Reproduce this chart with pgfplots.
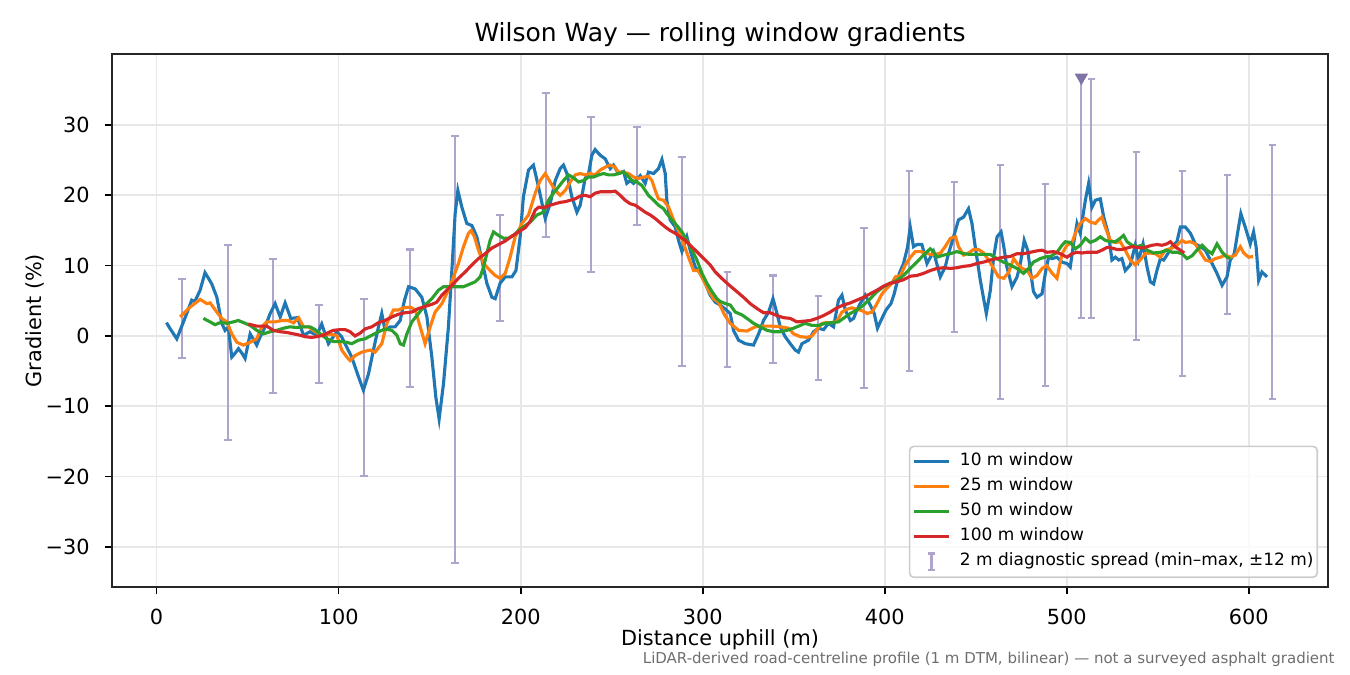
\documentclass[border=0pt]{standalone}
\usepackage{fontspec}
\setmainfont{DejaVu Sans}
\usepackage{pgfplots}
\pgfplotsset{compat=1.18}

\definecolor{c10}{HTML}{1F77B4}
\definecolor{c25}{HTML}{FF7F0E}
\definecolor{c50}{HTML}{2CA02C}
\definecolor{c100}{HTML}{D62728}
\definecolor{barcol}{RGB}{174,164,204}
\definecolor{tricol}{RGB}{128,114,164}
\definecolor{gridcol}{RGB}{231,231,231}
\definecolor{legframe}{RGB}{204,204,204}
\definecolor{notecol}{RGB}{110,110,110}

\begin{document}
\begin{tikzpicture}
% page = 1350 x 675 px at 0.48pt per px, axis box at px (112..1328, 54..587)
\useasboundingbox (-53.76pt,-42.24pt) rectangle (594.24pt,281.76pt);
\begin{axis}[
    at={(0,0)}, anchor=south west,
    scale only axis,
    width=583.68pt, height=255.84pt,
    xmin=-24.5, xmax=643.5,
    ymin=-35.7, ymax=40.1,
    xtick={0,100,...,600},
    ytick={-30,-20,...,30},
    yticklabels={−30,−20,−10,0,10,20,30},
    tick pos=left,
    tick align=outside,
    major tick length=3.5pt,
    tick style={black, line width=0.8pt},
    axis line style={line width=0.8pt, black!85},
    grid=major,
    grid style={gridcol, line width=0.8pt},
    /pgf/number format/assume math mode=true,
    ticklabel style={font=\fontsize{10}{12}\selectfont},
    xticklabel style={anchor=base, inner sep=0pt, yshift=-14.7pt},
    yticklabel style={anchor=east, inner sep=0pt, xshift=-7pt},
    legend cell align=left,
    legend style={
        at={(axis description cs:0.9918,0.0168)}, anchor=south east,
        font=\fontsize{8.15}{9.8}\selectfont,
        draw=legframe, line width=0.8pt, rounded corners=2pt,
        fill=white, fill opacity=0.8, text opacity=1,
        inner xsep=1.2pt, inner ysep=1.4pt,
        row sep=0pt,
        nodes={inner xsep=0.6pt, inner ysep=2pt, text height=6pt, text depth=2pt},
        /tikz/every odd column/.append style={column sep=3.8pt},
    },
]

% 2 m diagnostic spread: centre and half range of min..max
\addplot[draw=none, mark=none, forget plot,
    error bars/.cd, y dir=both, y explicit,
    error mark=|,
    error bar style={draw=barcol, line width=1pt, solid},
    error mark options={draw=barcol, line width=1pt, mark size=1.8pt}]
table[x=x, y=c, y error=h] {
x c h
14.0 2.5 5.6
39.3 -0.95 13.85
64.0 1.45 9.55
89.3 -1.15 5.55
114.0 -7.3 12.6
139.3 2.55 9.75
164.0 -1.95 30.35
188.7 9.65 7.55
214.0 24.35 10.25
238.7 20.15 11.05
264.0 22.75 6.95
288.7 10.6 14.9
313.5 2.35 6.75
338.7 2.4 6.2
363.5 -0.3 6.0
388.7 4.0 11.4
413.5 9.2 14.2
438.2 11.25 10.65
463.5 7.7 16.6
488.2 7.25 14.35
508.0 19.7 17.1
513.5 19.55 16.95
538.2 12.8 13.4
563.5 8.9 14.6
588.2 13.0 9.9
612.9 9.1 18.0
};

\addplot[only marks, mark=triangle*, mark size=3.3pt, forget plot,
    mark options={rotate=180, fill=tricol, draw=tricol}]
coordinates {(508.0,36.75)};

% 10 m window
\addplot[c10, line width=1.5pt, mark=none] table {
5.4 1.9
7.5 1.0
11.1 -0.4
14 1.5
17 3.5
19.3 5.1
21 4.9
23.9 6.5
26.6 9.0
28.5 8.2
30.3 7.4
33.1 5.5
35.8 1.8
37.6 0.8
39.4 1.3
41.3 -3.0
43 -2.5
45 -1.8
47 -2.5
48.6 -3.2
51.4 0.3
55 -1.3
56.9 -0.1
59.6 1.3
62.4 3.2
65.1 4.6
67.9 2.7
70.6 4.7
73.7 2.5
77.4 2.6
80.7 0.1
84.3 0.6
88 0.1
90.7 1.7
94.4 -1.1
97.1 -0.1
99 0.6
101.6 -0.1
104.5 -1.6
107.2 -3.0
110.9 -5.8
113.6 -7.7
116.4 -5.4
119.1 -2.0
121.9 1.3
123.7 3.2
125.5 0.8
128.3 1.3
131 1.3
133.8 2.2
136.2 5.1
138.4 7.0
142 6.7
145.7 5.5
148.5 2.7
151.2 -3.0
153.4 -8.7
155.2 -11.8
157.6 -6.8
160.3 1.3
162.2 9.3
164 17.4
165.5 20.7
167.7 18.3
170.4 16.0
173.2 15.7
175.9 14.1
178.7 10.8
181.4 7.5
184.2 5.5
186 5.3
188.7 7.5
191.5 8.4
195.2 8.4
197.4 9.3
199.7 14.1
201.5 19.8
204.3 23.6
207 24.3
209.8 21.2
212.5 17.9
213.5 16.7
216.2 18.8
219 22.1
221.7 23.8
223.5 24.3
225.4 23.1
228.1 19.8
230.9 17.6
232.7 18.6
235.4 22.4
237.3 23.1
239.1 25.7
240.9 26.5
243.7 25.7
246.4 25.2
249.2 23.8
251 24.3
253.7 23.1
256.5 23.4
258.3 21.7
260.2 22.1
262 21.7
265.7 22.8
268.4 21.7
270.2 23.3
273 23.1
275.7 23.8
277.6 25.1
279.4 23.1
280.3 19.3
282.1 16.5
284.9 15.5
286.7 13.6
288.6 12.0
291.3 14.1
293.1 12.2
295.9 9.8
298.6 8.9
301.4 7.5
304.1 5.8
306.9 4.8
309.6 4.4
312.5 3.8
315.1 3.2
316.9 0.8
319.7 -0.6
323.4 -1.1
327.9 -1.3
330.7 0.3
333.4 2.2
336.2 3.4
338.6 5.3
340.8 3.2
342.6 1.3
345.3 -0.1
348.1 -1.1
350.8 -2.0
352.6 -2.3
354.5 -1.1
358.1 -0.6
360.9 0.6
363.6 1.1
366.4 0.9
369.1 1.8
371.9 1.3
374.6 5.1
376.5 5.8
378.3 3.7
381.1 2.2
382.9 2.5
384.7 3.7
386.5 4.6
389.3 5.8
392 4.4
394.2 3.2
396 1.1
397.9 2.2
400.7 3.7
403.4 4.6
405.2 6.0
408 8.9
410.3 10.3
412.5 12.6
414 15.5
415.8 12.7
417.6 13.0
420.4 13.0
423.2 10.3
426.8 12.0
430.5 8.4
433.2 9.8
435 11.7
437.8 14.1
440.5 16.5
443.3 16.9
446 18.1
447.9 16.0
449.7 12.7
452.5 7.9
455.8 3.2
458 6.5
459.8 11.2
461.7 14.1
463.9 14.8
465.4 12.7
467.1 9.8
469.9 7.0
472.7 8.4
474.5 10.3
476.6 13.6
478.5 12.2
480 9.3
481.7 6.3
483.6 5.5
486.4 6.0
488.2 8.9
490 11.2
491.9 11.0
494.6 11.2
497.4 10.5
500.1 10.3
501.9 9.8
503.7 13.1
505.6 16.0
507.4 14.6
510.2 19.3
512 21.7
513.8 18.3
515.7 19.3
518.4 19.5
520.3 16.9
523 14.3
524.8 10.8
526.7 11.2
528.5 10.8
530.3 11.0
532.1 9.3
534.9 10.1
537.6 12.9
539.4 10.8
541.9 13.1
544.1 9.8
545.9 7.7
547.7 7.4
549.5 9.3
551.4 11.0
553.2 10.8
555 11.5
557.8 12.7
560.5 13.4
562.4 15.5
565.1 15.5
567.9 14.6
570.6 13.1
573.4 12.7
576.1 12.2
579.8 10.3
582.5 8.9
585.3 7.2
588 8.4
589.8 10.8
592 11.7
593.8 14.6
595.6 17.4
598 15.5
600.8 13.1
602.6 14.8
604 12.7
605.4 7.9
607.2 9.1
610 8.4
};
\addlegendentry{10 m window}

% 25 m window
\addplot[c25, line width=1.5pt, mark=none] table {
12.9 2.7
18.4 4.1
23.9 5.2
27.6 4.6
29.4 4.7
33.1 3.4
35.8 2.5
38.6 2.0
41.3 0.3
44.1 -0.9
47.7 -1.3
51.4 -0.9
55 -0.4
57.8 1.3
60.5 2.0
65.1 2.0
68.8 2.2
72.4 2.2
75.2 1.85
78 2.6
80.7 1.3
83.4 1.3
86.2 0.8
88.9 0.3
91.7 0.2
95.3 0.2
99 0.1
101.7 -2.0
104.5 -3.0
106.3 -3.5
109 -2.8
112.7 -2.3
117.3 -2.0
120 -2.3
123.7 -1.1
126.5 1.8
130.1 3.7
132.9 3.7
135.6 4.0
139.3 4.1
142.1 3.7
144.8 1.3
147.5 -1.1
150.3 1.3
153 3.4
156.7 4.6
160.3 6.5
163.1 8.4
165.8 10.3
168.6 12.7
171.3 14.6
172.8 15.0
174.6 14.1
176.8 12.2
179.6 10.3
183.2 9.3
186 8.6
188.7 8.2
191.5 8.9
194.2 11.2
197 14.1
200.7 16.0
204.3 17.2
208 20.3
210.7 22.1
213.5 23.1
216.2 21.9
219 20.7
221.7 20.0
224.5 20.7
227.2 21.9
230 22.9
232.7 23.1
235.4 22.9
238.2 23.1
240.9 22.9
243.7 23.6
246.4 24.0
249.2 24.3
251.9 24.0
253.7 23.3
256.5 23.3
259.2 23.1
262 22.6
264.7 22.4
267.5 22.6
270.2 22.7
272.1 22.1
273.9 20.7
275.7 19.5
278.5 19.3
281.3 18.3
284 16.5
286.7 15.0
289.5 13.1
292.2 11.2
295 9.3
297.7 9.3
300.5 7.9
303.2 6.5
305.9 5.3
308.7 4.8
312 3.0
315.1 1.8
319.7 0.8
324.3 0.7
328.8 1.3
333.4 1.4
338 1.4
342.6 1.3
347.2 1.1
349.9 0.3
353.6 -0.1
357.3 -0.2
360 0.0
362.4 0.8
365.5 1.8
368.2 1.9
371 1.9
373.7 2.1
376.5 3.4
379.2 3.8
382 4.0
384.7 3.8
387.5 3.6
390.3 3.2
393 3.4
395.7 4.6
398.5 6.0
401.2 6.8
404 7.5
405.8 8.4
408.6 8.6
411.3 10.1
414.1 11.2
416.8 12.0
419.6 12.0
422.3 11.8
425.1 11.6
427.8 11.6
430.6 11.8
433.2 12.7
436.1 13.9
438.9 14.1
440.5 12.7
443.3 11.5
446 11.8
448.8 12.3
451.5 12.3
454.3 11.8
457 10.8
459.8 9.6
462.5 8.4
465.4 8.2
468.2 9.1
470.8 11.0
472.7 10.3
475.5 9.6
478.3 9.3
480.9 8.2
483.6 8.6
486.4 9.6
489 10.0
492 8.9
494.6 8.2
497.4 11.7
500.1 12.9
502.9 13.3
504.7 14.6
507.4 16.0
510.2 16.7
512.9 16.2
515.7 16.0
517.5 16.5
519.3 16.9
521.1 15.5
523.9 13.6
526.7 13.3
529.4 13.4
532.1 12.2
534.9 10.8
537.6 10.1
540.3 10.8
543.1 11.7
545.9 11.8
548.6 11.7
551.4 11.2
554.1 12.2
557.8 12.5
560.5 12.9
563.3 13.6
565.1 13.3
567.9 13.4
570.6 13.1
573.4 11.9
576.1 10.8
578.9 10.6
581.6 11.0
584.4 11.2
587.1 11.5
589.8 11.2
592.6 11.5
595.3 12.7
597.2 11.8
599.9 11.2
602.3 11.3
};
\addlegendentry{25 m window}

% 50 m window
\addplot[c50, line width=1.5pt, mark=none] table {
25.7 2.5
29.4 2.0
32.1 1.6
34.9 1.9
38.6 1.8
42.2 2.0
44.9 2.2
47.7 1.9
51.4 1.5
55 0.8
58.7 0.3
62.4 0.6
66 0.8
69.7 1.1
73.3 1.3
77 1.2
80.7 1.3
84.3 1.3
87.1 0.9
89.8 0.3
93.5 -0.4
97.1 -0.8
100.8 -0.8
104.5 -0.9
107.2 -1.1
110.9 -0.6
114.5 -0.4
118.2 0.1
121.9 0.6
125.5 1.0
129.2 0.8
132 0.1
133.8 -1.1
135.6 -1.3
137.5 0.3
140.2 2.0
143.9 3.2
147.5 4.4
151.2 5.3
154.8 6.5
157.6 7.0
161.3 7.0
164.9 7.0
168.6 7.0
172.3 7.4
175 7.7
177.8 8.4
179.6 9.8
181.4 11.7
183.2 13.6
185.1 14.8
187.8 14.3
190.6 13.9
193.3 13.9
196.1 14.3
198.8 15.0
202.5 15.7
205.2 16.2
208.9 17.2
212.5 17.6
215.3 19.3
218 20.3
220.8 21.2
223.5 22.1
226.3 22.9
229 22.5
231.8 21.9
234.5 22.1
237.3 22.6
240 22.6
242.8 22.9
245.5 23.1
248.3 22.9
251 22.9
253.8 23.1
256.5 23.3
258.3 22.9
261.1 22.1
263.8 21.9
266.6 21.4
268.4 20.7
270.2 20.0
273 19.3
275.7 18.6
278.5 18.1
280.3 17.4
283.1 16.5
285.8 15.7
288.6 14.8
291.3 13.6
294.1 12.2
296.8 10.8
299.6 8.9
302.3 7.5
305.1 6.3
307.8 5.3
309.6 4.9
312.5 4.6
315.1 4.4
317.9 3.4
321.5 3.0
324.3 2.5
327.9 1.8
331.6 1.3
335.3 0.8
339 0.6
342.6 0.6
346.3 0.8
349.9 1.1
353.6 1.5
356.3 1.8
360 1.5
363.6 1.5
367.3 1.8
371 1.9
374.6 2.0
378.3 2.7
381.1 3.2
384.7 3.7
388.4 4.4
392 5.3
395.7 6.3
399.4 7.0
403 7.5
406.7 7.9
410.3 8.6
414 9.6
417.6 10.5
421.3 11.5
425 12.4
426.8 12.0
428.6 11.2
432.3 11.5
436 11.7
439.6 12.0
443.3 11.7
446.9 11.6
450.6 11.6
454.3 11.6
457.9 11.6
461.6 11.0
465.2 10.5
468.9 10.1
472.6 9.6
476.2 8.9
479 9.6
481.7 10.5
485.4 11.0
489.1 11.3
491 11.3
494.6 11.9
497.4 12.9
499.2 13.4
501.9 13.3
504.7 12.4
507.4 12.9
510.2 13.9
512.9 13.3
515.7 13.6
518.4 14.1
521.1 13.6
523.9 13.4
526.7 13.4
529.4 13.9
531.2 14.3
533.1 13.4
535.8 12.9
538.5 12.7
541.3 12.9
544.1 12.2
547.7 11.8
551.4 11.9
555 12.2
557.8 11.9
560.5 11.9
563.3 11.7
566 11.0
568.8 11.4
571.5 12.2
574.3 12.9
577 12.2
579.8 11.7
582.5 13.1
585.3 11.9
588 11.2
589.8 11.0
};
\addlegendentry{50 m window}

% 100 m window
\addplot[c100, line width=1.5pt, mark=none] table {
50.4 1.7
55 1.4
60.5 1.4
64.2 0.8
67.9 0.6
71.5 0.5
75.2 0.3
78.9 0.1
81.6 -0.1
85.2 -0.2
88 -0.1
91.7 0.1
94.4 0.5
97.1 0.8
100.8 0.9
103.6 0.9
106.3 0.6
109 0.0
111.8 0.4
114.5 1.0
118.2 1.3
121.9 1.9
125.5 2.2
129.2 2.7
132.9 3.1
136.5 3.3
140.2 3.4
143.9 3.9
147.5 4.2
151.2 4.5
153.9 4.8
156.7 5.8
159.5 6.5
162.2 7.2
165.8 8.2
169.5 9.1
173.2 10.1
176.8 11.0
180.5 11.7
184.2 12.5
187.8 13.0
191.5 13.5
195.2 14.2
198.8 14.8
202.5 15.4
205.2 16.3
208 17.9
209.8 18.3
213.5 18.3
216.2 18.6
219 18.8
221.7 19.0
224.5 19.1
227.2 19.3
230 19.5
232.7 19.9
235.4 20.0
238.2 19.8
240.9 20.3
243.7 20.5
246.4 20.5
249.2 20.5
251.9 20.6
254.7 20.0
257.4 19.3
260.2 18.8
262.9 18.6
265.7 18.1
268.4 17.6
271.2 17.2
273.9 16.7
276.6 16.1
279.4 15.5
282.1 15.0
284.9 14.6
287.6 14.1
290.4 13.6
293.1 12.9
295.9 12.2
298.6 11.5
301.4 10.8
304.1 10.1
306.9 9.1
309.6 8.4
312.5 7.7
315.1 7.1
318.8 6.3
322.4 5.5
326.1 4.6
329.8 3.9
333.4 3.3
337.1 3.3
340.8 2.9
344.4 2.6
348.1 2.5
351.7 2.0
355.4 2.1
359.1 2.2
362.7 2.5
366.4 2.9
370 3.4
373.7 4.0
377.4 4.4
381.1 4.7
384.7 5.1
388.4 5.5
392 6.0
395.7 6.5
399.4 7.1
403 7.5
406.7 7.7
410.3 8.0
414 8.5
417.6 8.6
421.3 8.9
425 9.3
428.6 9.6
432.3 9.7
436 9.6
439.6 9.7
443.3 9.9
446.9 10.0
450.6 10.3
454.3 10.5
457.9 10.8
461.6 11.0
465.2 11.2
468.9 11.3
472.6 11.7
476.2 11.7
479.9 11.9
483.6 12.1
486.4 12.2
489.1 11.9
492.8 12.0
496.4 11.7
500.1 11.2
502.9 11.7
505.6 11.9
508.4 11.8
511.1 11.9
513.8 11.9
516.6 11.9
519.3 12.2
522.1 12.6
524.8 12.5
527.6 12.3
530.3 12.3
533.1 12.5
535.8 12.7
538.5 12.6
541.3 12.5
544.1 12.7
546.8 12.9
549.6 13.0
552.3 12.9
555 13.1
556.9 13.4
558.7 12.9
560.5 12.5
562.4 12.2
564.5 11.8
};
\addlegendentry{100 m window}

\addlegendimage{legend image code/.code={
    \path[draw=none] (0cm,0pt) -- (0.6cm,0pt);
    \draw[barcol, line width=1pt] (0.3cm,-4pt) -- (0.3cm,4pt);
    \draw[barcol, line width=1pt] (0.3cm-1.8pt,-4pt) -- (0.3cm+1.8pt,-4pt);
    \draw[barcol, line width=1pt] (0.3cm-1.8pt,4pt) -- (0.3cm+1.8pt,4pt);
}}
\addlegendentry{2 m diagnostic spread (min–max, ±12 m)}
\end{axis}

\node[anchor=base, font=\fontsize{12}{14.4}\selectfont] at (291.84pt,261.7pt)
    {Wilson Way — rolling window gradients};
\node[anchor=base, font=\fontsize{10}{12}\selectfont] at (291.84pt,-28.3pt)
    {Distance uphill (m)};
\node[anchor=base, rotate=90, font=\fontsize{10}{12}\selectfont] at (-33.9pt,127.9pt)
    {Gradient (\%)};
\node[anchor=base east, inner sep=0pt, text=notecol, font=\fontsize{7.2}{8.6}\selectfont]
    at (587.0pt,-36.7pt)
    {LiDAR-derived road-centreline profile (1 m DTM, bilinear) — not a surveyed asphalt gradient};
\end{tikzpicture}
\end{document}
